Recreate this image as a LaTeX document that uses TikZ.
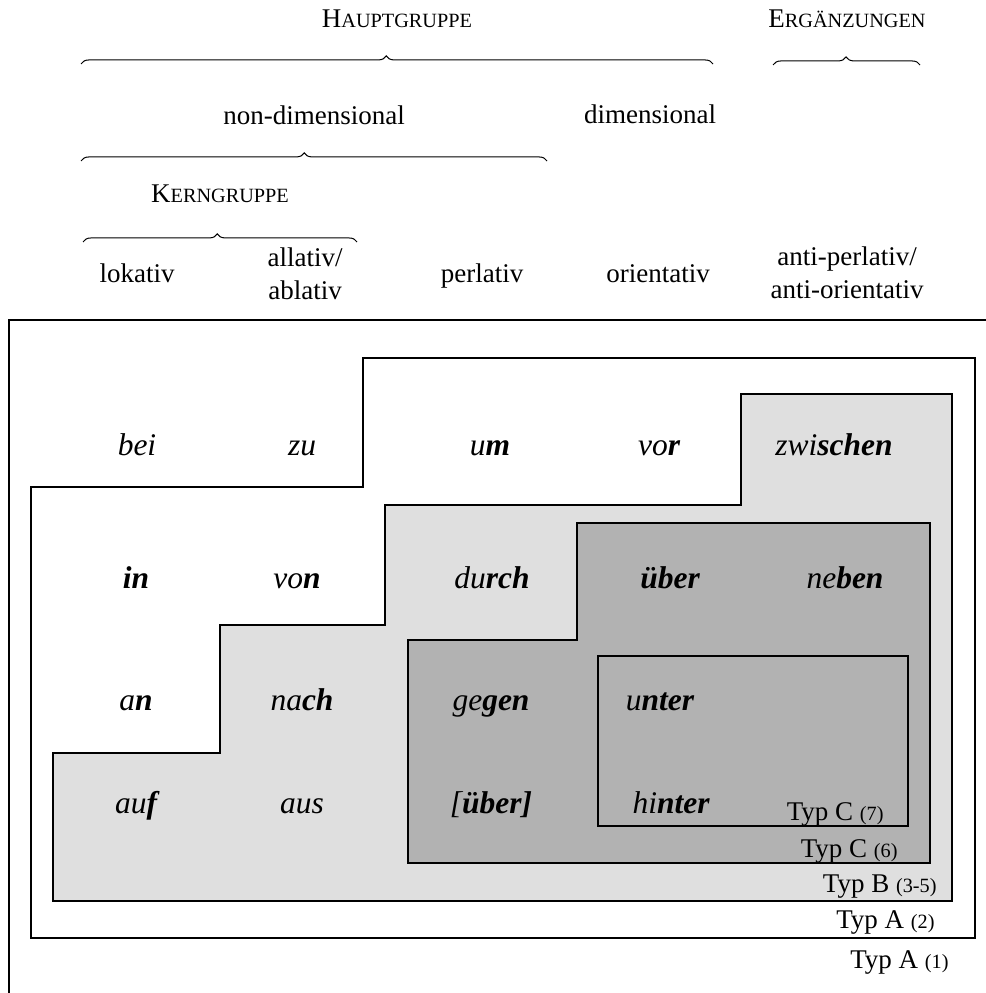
\documentclass[tikz,border=0pt]{standalone}
\usepackage{fontspec}
\setmainfont{Liberation Serif}
\usetikzlibrary{decorations.pathreplacing}
\definecolor{lightg}{gray}{0.875}
\definecolor{darkg}{gray}{0.70}
\newcommand\Bf[1]{\textbf{#1}}
\newcommand\Sc[1]{{\fontsize{9}{10}\selectfont #1}}
\begin{document}
\begin{tikzpicture}[x=0.44444pt,y=-0.44444pt,
  frame/.style={line width=1.3pt, line join=miter},
  lab/.style={font=\fontsize{12}{14.7}\selectfont, inner sep=0pt, align=center},
  grp/.style={font=\fontsize{12}{14}\selectfont, inner sep=0pt, anchor=base},
  word/.style={font=\fontsize{14}{16}\selectfont\itshape, inner sep=0pt, anchor=base},
  typ/.style={font=\fontsize{12}{14}\selectfont, inner sep=0pt, anchor=base east},
  brc/.style={decorate, line width=0.45pt},
]
\useasboundingbox (0,0) rectangle (986,993);

% frames
\draw[frame] (986,320) -- (9,320) -- (9,993);
\draw[frame, fill=white] (31,487) -- (363,487) -- (363,358) -- (975,358) -- (975,938) -- (31,938) -- cycle;
\draw[frame, fill=lightg] (53,753) -- (220,753) -- (220,625) -- (385,625) -- (385,505) -- (741,505) -- (741,394) -- (952,394) -- (952,901) -- (53,901) -- cycle;
\draw[frame, fill=darkg] (408,640) -- (577,640) -- (577,523) -- (930,523) -- (930,863) -- (408,863) -- cycle;
\draw[frame] (598,656) rectangle (908,826);

% braces
\coordinate (hL) at (81,64);  \coordinate (hR) at (713,64);
\coordinate (eL) at (773,65); \coordinate (eR) at (920,65);
\coordinate (nL) at (81,161); \coordinate (nR) at (547,161);
\coordinate (kL) at (83,242); \coordinate (kR) at (357,242);
\draw[brc, decoration={brace, amplitude=3.6pt, aspect=0.483}] (hL) -- (hR);
\draw[brc, decoration={brace, amplitude=3.6pt, aspect=0.497}] (eL) -- (eR);
\draw[brc, decoration={brace, amplitude=3.6pt, aspect=0.479}] (nL) -- (nR);
\draw[brc, decoration={brace, amplitude=3.6pt, aspect=0.49}] (kL) -- (kR);

% group labels
\node[grp] (haupt) at (397,28) {H\Sc{AUPTGRUPPE}};
\node[grp] (erg) at (847,28) {E\Sc{RGÄNZUNGEN}};
\node[grp] (nondim) at (314,125) {non-dimensional};
\node[grp] (dim) at (650,124) {dimensional};
\node[grp] (kern) at (220,203) {K\Sc{ERNGRUPPE}};

% column headers
\node[grp] (lok) at (137,283) {lokativ};
\node[lab] (allab) at (305,274) {allativ/\\ablativ};
\node[grp] (perl) at (482,283) {perlativ};
\node[grp] (orient) at (658,283) {orientativ};
\node[lab] (anti) at (847,273) {anti-perlativ/\\anti-orientativ};

% words row 1
\node[word] (bei) at (137,455) {bei};
\node[word] (zu) at (302,455) {zu};
\node[word] (um) at (490,455) {u\Bf{m}};
\node[word] (vor) at (659,455) {vo\Bf{r}};
\node[word] (zwischen) at (834,455) {zwi\Bf{schen}};
% row 2
\node[word] (in) at (136,588) {\Bf{in}};
\node[word] (von) at (297,588) {vo\Bf{n}};
\node[word] (durch) at (492,588) {du\Bf{rch}};
\node[word] (ueber) at (670,588) {\Bf{über}};
\node[word] (neben) at (845,588) {ne\Bf{ben}};
% row 3
\node[word] (an) at (136,710) {a\Bf{n}};
\node[word] (nach) at (302,710) {na\Bf{ch}};
\node[word] (gegen) at (491,710) {ge\Bf{gen}};
\node[word] (unter) at (660,710) {u\Bf{nter}};
% row 4
\node[word] (auf) at (136,813) {au\Bf{f}};
\node[word] (aus) at (302,813) {aus};
\node[word] (uebert) at (491,813) {[\Bf{über]}};
\node[word] (hinter) at (671,813) {hi\Bf{nter}};

% type labels
\node[typ] (tc7) at (884,820) {Typ C \Sc{(7)}};
\node[typ] (tc6) at (898,857) {Typ C \Sc{(6)}};
\node[typ] (tb) at (937,892) {Typ B \Sc{(3-5)}};
\node[typ] (ta2) at (935,928) {Typ A \Sc{(2)}};
\node[typ] (ta1) at (949,968) {Typ A \Sc{(1)}};
\end{tikzpicture}
\end{document}
